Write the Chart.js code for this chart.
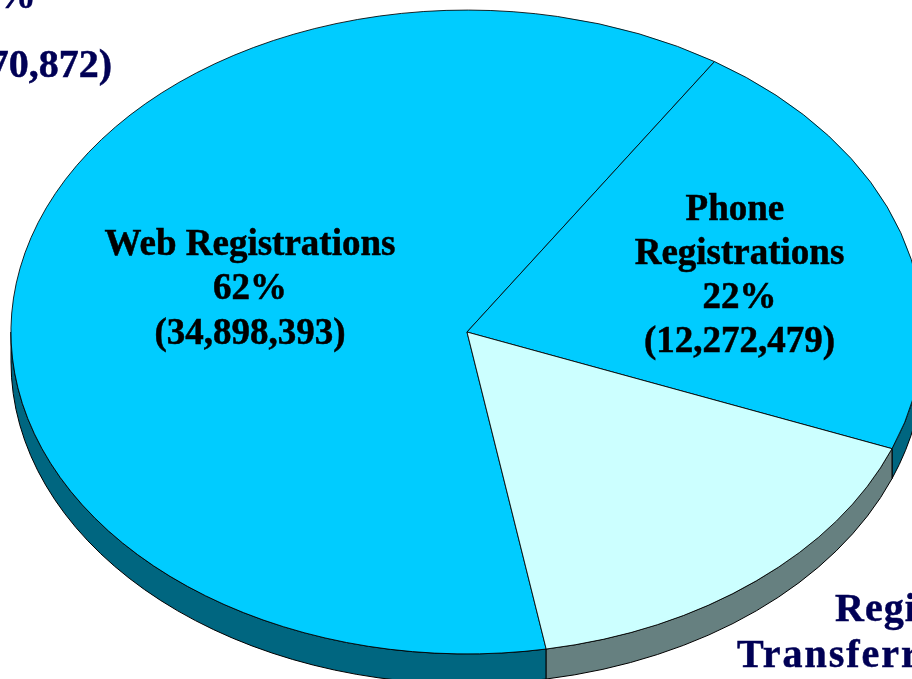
<!DOCTYPE html>
<html>
<head>
<meta charset="utf-8">
<title>Registrations</title>
<script src="https://cdn.jsdelivr.net/npm/chart.js@4/dist/chart.umd.min.js"></script>
<style>
    html, body { margin: 0; padding: 0; background: #fff; overflow: hidden; }
    canvas { display: block; }
</style>
</head>
<body>
<canvas id="pie" width="912" height="679"></canvas>
<script>
const categories = ['Web Registrations', 'Phone Registrations', 'Registrations Transferred'];
const registrations = [34898393, 12272479, 9200000];
const topColors = ['#00ccff', '#00ccff', '#ccffff'];
const wallColors = ['#006680', '#006680', '#668080'];

const SQUASH = 0.706;   // pie is a circle, this flattens it
const DEPTH = 30;
const CENTER_Y = 332;
const INNER_TEXT = '#000000';
const OUTER_TEXT = '#000055';

function draw_walls(chart) {
    const ctx = chart.ctx;
    const arcs = chart.getDatasetMeta(0).data;
    const full = Math.PI * 2;
    arcs.forEach((arc, i) => {
        // only the part of a slice facing the viewer has a wall
        for (let k = -1; k <= 1; k++) {
            const from = Math.max(arc.startAngle + k * full, 0);
            const to = Math.min(arc.endAngle + k * full, Math.PI);
            if (to <= from) continue;
            const rx = arc.outerRadius;
            const ry = rx * SQUASH;
            ctx.beginPath();
            ctx.ellipse(arc.x, CENTER_Y, rx, ry, 0, from, to);
            ctx.ellipse(arc.x, CENTER_Y + DEPTH, rx, ry, 0, to, from, true);
            ctx.closePath();
            ctx.fillStyle = wallColors[i];
            ctx.fill();
            ctx.strokeStyle = '#000';
            ctx.lineWidth = 1;
            ctx.stroke();
        }
    });
}

function put_text(ctx, lines, x, y, step, size, align, color, spacing) {
    ctx.font = 'bold ' + size + 'px "Liberation Serif"';
    ctx.textAlign = align;
    ctx.textBaseline = 'alphabetic';
    ctx.letterSpacing = spacing || '0px';
    ctx.fillStyle = color;
    ctx.strokeStyle = color;
    ctx.lineWidth = 0.5;    // reference type is a bit heavier
    lines.forEach((line, i) => {
        ctx.fillText(line, x, y + i * step);
        ctx.strokeText(line, x, y + i * step);
    });
}

const flatPie = {
    id: 'flatPie',
    beforeDatasetsDraw(chart) {
        draw_walls(chart);
        const ctx = chart.ctx;
        const arc = chart.getDatasetMeta(0).data[0];
        ctx.save();
        ctx.translate(arc.x, CENTER_Y);
        ctx.scale(1, SQUASH);
        ctx.translate(-arc.x, -arc.y);
    },
    afterDatasetsDraw(chart) {
        chart.ctx.restore();
    },
    afterDraw(chart) {
        const ctx = chart.ctx;
        ctx.save();
        put_text(ctx, ['Web Registrations', '62%', '(34,898,393)'], 250, 255, 44.3, 37, 'center', INNER_TEXT);
        put_text(ctx, ['Phone ', 'Registrations', '22%', '(12,272,479)'], 739.5, 220, 44, 37, 'center', INNER_TEXT);
        put_text(ctx, ['1%'], 36, 8, 0, 40, 'right', OUTER_TEXT);
        put_text(ctx, ['(570,872)'], 112, 77, 0, 40, 'right', OUTER_TEXT);
        put_text(ctx, ['Registrations'], 835, 621, 0, 40, 'left', OUTER_TEXT, '1px');
        put_text(ctx, ['Transferred'], 737, 667, 0, 40, 'left', OUTER_TEXT, '2px');
        ctx.restore();
    }
};

new Chart(document.getElementById('pie').getContext('2d'), {
    type: 'pie',
    data: {
        labels: categories,
        datasets: [{
            data: registrations,
            backgroundColor: topColors,
            borderColor: '#000',
            borderWidth: 1,
            clip: false
        }]
    },
    options: {
        responsive: false,
        animation: false,
        rotation: 170,
        radius: 456,
        layout: { padding: { left: 22 } },
        plugins: {
            legend: { display: false },
            tooltip: { enabled: false }
        }
    },
    plugins: [flatPie]
});
</script>
</body>
</html>
